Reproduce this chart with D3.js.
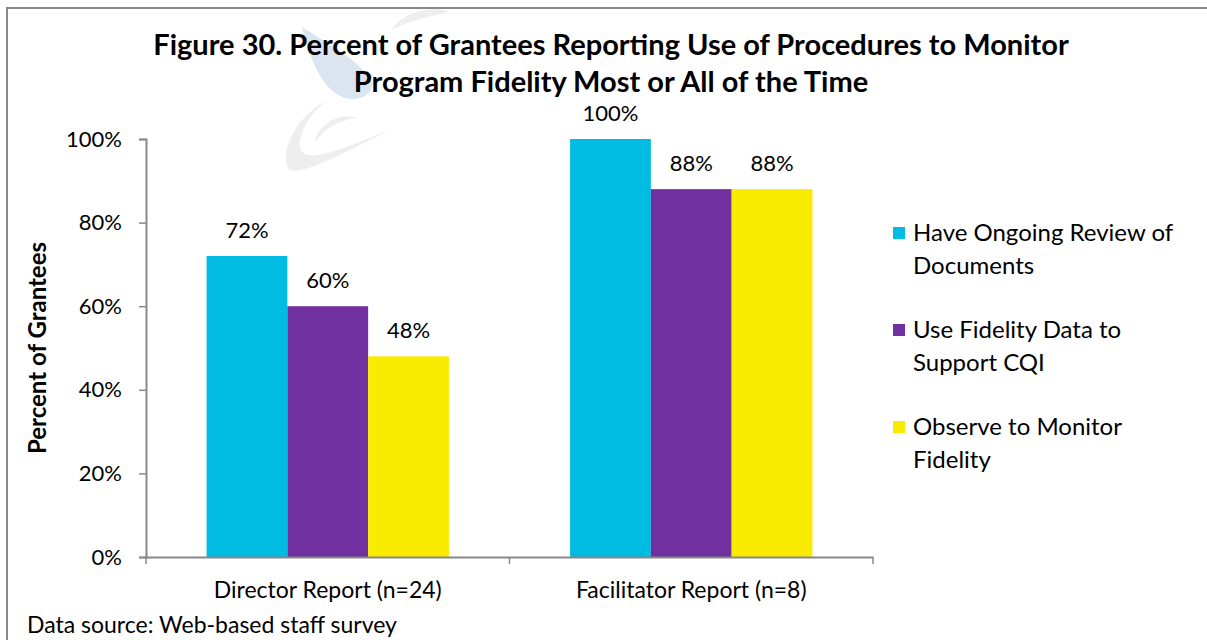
<!DOCTYPE html>
<html>
<head>
<meta charset="utf-8">
<script src="https://cdn.jsdelivr.net/npm/d3@7"></script>
<style>
  body { margin: 0; background: #fff; }
  svg { display: block; font-family: Lato, "Open Sans", sans-serif; }
</style>
</head>
<body>
<div id="chart"></div>
<script>
const categories = ["Director Report (n=24)", "Facilitator Report (n=8)"];
const seriesNames = [
  ["Have Ongoing Review of", "Documents"],
  ["Use Fidelity Data to", "Support CQI"],
  ["Observe to Monitor", "Fidelity"]
];
const seriesKeys = ["review", "cqi", "observe"];
const reviewValues = [72, 100];
const cqiValues = [60, 88];
const observeValues = [48, 88];
const yTicks = [0, 20, 40, 60, 80, 100];
const colors = ["#00bce2", "#7030a0", "#f9eb00"];

const width = 1207, height = 640,
  margin = ({ top: 139, right: 334, bottom: 83, left: 146 });

const data = categories.map((c, i) => ({
  category: c,
  review: reviewValues[i],
  cqi: cqiValues[i],
  observe: observeValues[i]
}));

const svg = d3.select("#chart")
  .append("svg")
  .attr("width", width)
  .attr("height", height);

// faint watermark behind the title
const wm = svg.append("g");
wm.append("path")
  .attr("d", "M302,27 C322,40 356,58 370,78 C378,92 360,104 342,97 C322,88 310,60 302,27 Z")
  .attr("fill", "#dbe5ef");
wm.append("path")
  .attr("d", "M450,12 C430,4 400,14 392,30 C410,20 432,16 450,12 Z")
  .attr("fill", "#eeeeee");
wm.append("path")
  .attr("d", "M357,118 C338,112 318,125 315,142 C325,128 340,120 357,118 Z")
  .attr("fill", "#eeeeee");
wm.append("path")
  .attr("d", "M327,100 C295,118 280,150 288,168 C295,178 330,160 390,130 C340,150 305,165 300,148 C298,132 312,112 327,100 Z")
  .attr("fill", "#eeeeee");

// frame
svg.append("path")
  .attr("d", `M7,${height} V8 H${width}`)
  .attr("fill", "none")
  .attr("stroke", "#888")
  .attr("stroke-width", 2);

const x0 = d3.scaleBand()
  .domain(categories)
  .range([margin.left, width - margin.right]);

const x1 = d3.scaleBand()
  .domain(seriesKeys)
  .range([0, x0.bandwidth()])
  .paddingOuter(0.75)
  .paddingInner(0);

const y = d3.scaleLinear()
  .domain([0, 100])
  .range([height - margin.bottom, margin.top]);

// y axis
const yAxis = svg.append("g")
  .attr("transform", `translate(${margin.left},0)`)
  .call(d3.axisLeft(y).tickValues(yTicks).tickFormat(d => d + "%").tickSize(7).tickPadding(17));
yAxis.select(".domain").attr("stroke", "#888").attr("stroke-width", 2);
yAxis.selectAll(".tick line").attr("stroke", "#888").attr("stroke-width", 1.5);
yAxis.selectAll("text").attr("font-size", 22).attr("fill", "#000").attr("font-family", "Lato");

// bars
const groups = svg.append("g")
  .selectAll("g")
  .data(data)
  .join("g")
  .attr("transform", d => `translate(${x0(d.category)},0)`);

groups.selectAll("rect")
  .data(d => seriesKeys.map((k, i) => ({ key: k, value: d[k], i })))
  .join("rect")
  .attr("x", d => x1(d.key))
  .attr("width", x1.bandwidth())
  .attr("y", d => y(d.value))
  .attr("height", d => y(0) - y(d.value))
  .attr("fill", d => colors[d.i]);

groups.selectAll("text")
  .data(d => seriesKeys.map((k, i) => ({ key: k, value: d[k], i })))
  .join("text")
  .attr("x", d => x1(d.key) + x1.bandwidth() / 2)
  .attr("y", d => y(d.value) - 18)
  .attr("text-anchor", "middle")
  .attr("font-size", 22)
  .text(d => d.value + "%");

// x axis
const xAxis = svg.append("g")
  .attr("transform", `translate(0,${y(0)})`)
  .call(d3.axisBottom(x0).tickSize(0).tickPadding(25));
xAxis.select(".domain").attr("stroke", "#888").attr("stroke-width", 2);
xAxis.selectAll("text").attr("font-size", 23).attr("fill", "#000").attr("font-family", "Lato");
const bounds = [...categories.map(c => x0(c)), x0(categories[categories.length - 1]) + x0.bandwidth()];
xAxis.selectAll(".bound")
  .data(bounds)
  .join("line")
  .attr("class", "bound")
  .attr("x1", d => d).attr("x2", d => d)
  .attr("y1", 0).attr("y2", 7)
  .attr("stroke", "#888")
  .attr("stroke-width", 1.5);

// y title
svg.append("text")
  .attr("transform", `translate(46,${(y(0) + y(100)) / 2}) rotate(-90)`)
  .attr("text-anchor", "middle")
  .attr("font-size", 24)
  .attr("font-weight", "bold")
  .text("Percent of Grantees");

// chart title
const title = svg.append("text")
  .attr("text-anchor", "middle")
  .attr("font-size", 29)
  .attr("font-weight", "bold");
title.append("tspan").attr("x", 611).attr("y", 55)
  .text("Figure 30. Percent of Grantees Reporting Use of Procedures to Monitor");
title.append("tspan").attr("x", 611).attr("y", 92)
  .text("Program Fidelity Most or All of the Time");

// legend
const legend = svg.append("g")
  .selectAll("g")
  .data(seriesNames)
  .join("g")
  .attr("transform", (d, i) => `translate(893,${233 + i * 97})`);
legend.append("rect")
  .attr("y", -6)
  .attr("width", 12)
  .attr("height", 12)
  .attr("fill", (d, i) => colors[i]);
legend.append("text")
  .attr("x", 20)
  .attr("font-size", 24)
  .selectAll("tspan")
  .data(d => d)
  .join("tspan")
  .attr("x", 20)
  .attr("y", (d, i) => 8 + i * 33)
  .text(d => d);

// source note
svg.append("text")
  .attr("x", 27)
  .attr("y", 633)
  .attr("font-size", 23)
  .text("Data source: Web-based staff survey");
</script>
</body>
</html>
